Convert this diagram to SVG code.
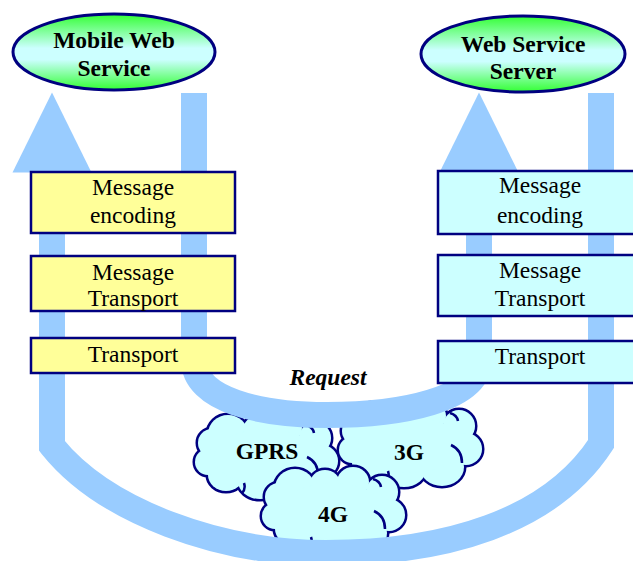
<svg xmlns="http://www.w3.org/2000/svg" xmlns:xlink="http://www.w3.org/1999/xlink" width="633" height="561" viewBox="0 0 633 561">
<style>
.box{stroke:#000080;stroke-width:2.5}
.yel{fill:#ffff99}
.cyan{fill:#ccffff}
.ell{fill:url(#eg);stroke:#000080;stroke-width:3}
.t{font-family:"Liberation Serif","Times New Roman",serif;font-size:23.5px;fill:#000;text-anchor:middle}
.b{font-weight:bold}
.conn{fill:none;stroke:#99ccff;stroke-width:26;stroke-linejoin:miter;stroke-linecap:butt}
.cs{fill:#000080;stroke:#000080;stroke-width:5}
.cf{fill:#ccffff}
.cm{fill:none;stroke:#000080;stroke-width:2.5}
</style>
<defs>
<linearGradient id="eg" x1="0" y1="0" x2="0" y2="1">
<stop offset="0" stop-color="#33ff33"/>
<stop offset="0.45" stop-color="#ccffff"/>
<stop offset="0.6" stop-color="#ccffff"/>
<stop offset="1" stop-color="#33ff33"/>
</linearGradient>
<marker id="ah" markerUnits="userSpaceOnUse" markerWidth="80" markerHeight="80" viewBox="0 0 79 78" refX="0.5" refY="39" orient="auto" overflow="visible">
<path d="M0,0 L79,39 L0,78 z" fill="#99ccff"/>
</marker>
<g id="cloudshape">
<ellipse cx="18" cy="30" rx="14" ry="14"/>
<ellipse cx="34" cy="21" rx="20" ry="19"/>
<ellipse cx="64" cy="17" rx="15" ry="14"/>
<ellipse cx="92" cy="15" rx="16" ry="15"/>
<ellipse cx="121" cy="25" rx="16" ry="16"/>
<ellipse cx="128" cy="48" rx="16" ry="16"/>
<ellipse cx="104" cy="66" rx="22" ry="19"/>
<ellipse cx="66" cy="68" rx="22" ry="18"/>
<ellipse cx="32" cy="62" rx="18" ry="16"/>
<ellipse cx="14" cy="49" rx="13" ry="13"/>
<ellipse cx="72" cy="44" rx="52" ry="28"/>
</g>
<g id="cloud">
<use xlink:href="#cloudshape" class="cs"/>
<use xlink:href="#cloudshape" class="cf"/>
<path class="cm" d="M113,44 Q124,49 124,62 M50,70 Q52,76 48,80 M112,12 Q119,14 120,20"/>
</g>
</defs>
<g id="gprs">
<use xlink:href="#cloud" x="194" y="413"/>
<text class="t b" x="267" y="459">GPRS</text>
</g>
<g id="g3">
<use xlink:href="#cloud" x="338" y="401"/>
<text class="t b" x="409" y="460">3G</text>
</g>
<g id="g4">
<use xlink:href="#cloud" x="261" y="467"/>
<text class="t b" x="333" y="522">4G</text>
</g>
<g id="connectors">
<path class="conn" marker-end="url(#ah)" d="M601,93 L601,444 C550,522 445,553 326,553 C220,553 105,512 52,446 L52,172"/>
<path class="conn" marker-end="url(#ah)" d="M194,93 L194,360 C194,400 260,415 327,415 C400,415 479,400 479,360 L479,172"/>
<text class="t b" x="328" y="385" font-style="italic">Request</text>
</g>
<g id="mobile">
<ellipse class="ell" cx="114" cy="52" rx="101" ry="38"/>
<text class="t b" x="114" y="48">Mobile Web</text>
<text class="t b" x="114" y="76">Service</text>
</g>
<g id="server">
<ellipse class="ell" cx="523" cy="54" rx="102" ry="38"/>
<text class="t b" x="523" y="52">Web Service</text>
<text class="t b" x="523" y="79">Server</text>
</g>
<g id="l-enc">
<rect class="box yel" x="31" y="172" width="204" height="61"/>
<text class="t" x="133" y="195">Message</text>
<text class="t" x="133" y="223">encoding</text>
</g>
<g id="l-mt">
<rect class="box yel" x="31" y="256" width="204" height="55"/>
<text class="t" x="133" y="280">Message</text>
<text class="t" x="133" y="306">Transport</text>
</g>
<g id="l-tr">
<rect class="box yel" x="31" y="338" width="204" height="35"/>
<text class="t" x="133" y="362">Transport</text>
</g>
<g id="r-enc">
<rect class="box cyan" x="438" y="171" width="204" height="63"/>
<text class="t" x="540" y="193">Message</text>
<text class="t" x="540" y="223">encoding</text>
</g>
<g id="r-mt">
<rect class="box cyan" x="438" y="255" width="204" height="61"/>
<text class="t" x="540" y="278">Message</text>
<text class="t" x="540" y="306">Transport</text>
</g>
<g id="r-tr">
<rect class="box cyan" x="438" y="341" width="204" height="42"/>
<text class="t" x="540" y="364">Transport</text>
</g>
</svg>
